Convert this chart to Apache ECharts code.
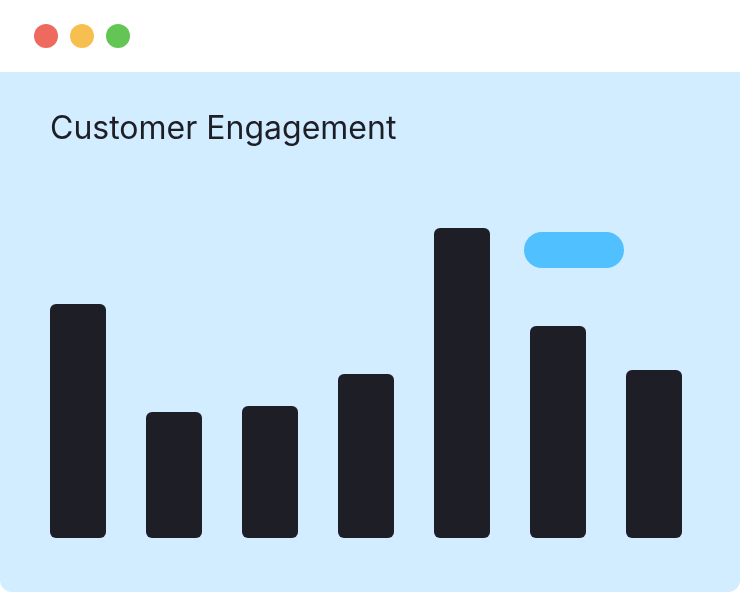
<!DOCTYPE html>
<html><head><meta charset="utf-8">
<script src="https://cdn.jsdelivr.net/npm/echarts@6/dist/echarts.min.js"></script>
<style>html,body{margin:0;padding:0;background:#fff}#c{width:740px;height:592px}</style>
</head><body><div id="c"></div>
<script>
const categories = ['A', 'B', 'C', 'D', 'E', 'F', 'G'];
const engagement = [234, 126, 132, 164, 310, 212, 168];
const titleText = 'Customer Engagement';

const chart = echarts.init(document.getElementById('c'), null, {renderer: 'canvas'});
chart.setOption({
  backgroundColor: '#ffffff',
  animation: false,
  graphic: [
    {type: 'rect', z: -10, shape: {x: 0, y: 72, width: 740, height: 520, r: [0, 0, 12, 12]}, style: {fill: '#d2edff'}},
    {type: 'circle', shape: {cx: 46, cy: 36, r: 12}, style: {fill: '#ef6a5e'}},
    {type: 'circle', shape: {cx: 82, cy: 36, r: 12}, style: {fill: '#f7bf50'}},
    {type: 'circle', shape: {cx: 118, cy: 36, r: 12}, style: {fill: '#63c654'}},
    {type: 'text', left: 50, top: 113, style: {text: titleText, fill: '#1e1f26', font: '400 32px Inter, "Noto Sans", sans-serif'}},
    {type: 'rect', shape: {x: 524, y: 232, width: 100, height: 36, r: 18}, style: {fill: '#50c0ff'}}
  ],
  grid: {left: 30, width: 672, top: 228, height: 310, containLabel: false},
  xAxis: {type: 'category', data: categories, show: false},
  yAxis: {type: 'value', min: 0, max: 310, show: false},
  series: [{
    type: 'bar', data: engagement, barWidth: 56,
    itemStyle: {color: '#1d1e26', borderRadius: 6}
  }]
});
</script></body></html>
